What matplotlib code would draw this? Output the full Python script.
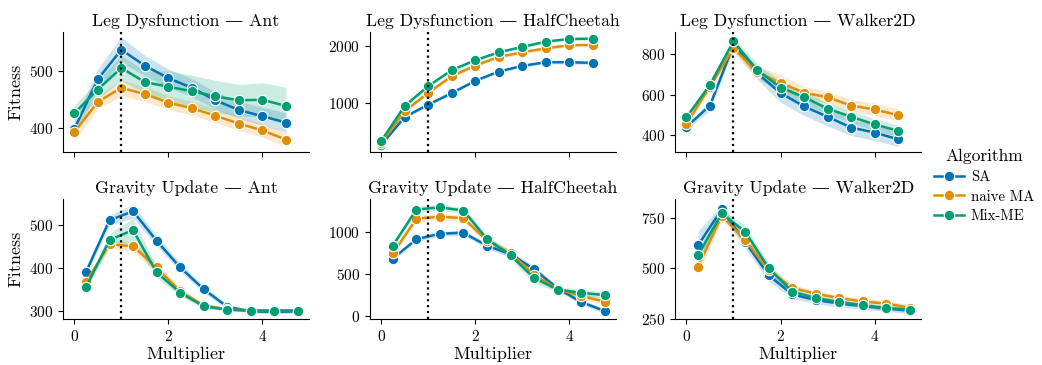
import numpy as np
import matplotlib
matplotlib.use("Agg")
import matplotlib.pyplot as plt
from matplotlib.lines import Line2D

plt.rcParams['font.family'] = ['cmr10', 'DejaVu Serif']
plt.rcParams['axes.formatter.use_mathtext'] = True
plt.rcParams['mathtext.fontset'] = 'cm'

algorithms = ["SA", "naive MA", "Mix-ME"]
colors = ["#0173b2", "#de8f05", "#029e73"]

leg_x = [0.0, 0.5, 1.0, 1.5, 2.0, 2.5, 3.0, 3.5, 4.0, 4.5]
grav_x = [0.25, 0.75, 1.25, 1.75, 2.25, 2.75, 3.25, 3.75, 4.25, 4.75]

# Leg Dysfunction — Ant (mean, ci half width)
leg_ant_sa = [397, 485, 537, 509, 487, 470, 448, 431, 420, 409]
leg_ant_ma = [392, 445, 470, 459, 444, 434, 421, 407, 395, 379]
leg_ant_mix = [425, 467, 505, 480, 472, 464, 455, 448, 449, 438]
leg_ant_sa_ci = [14, 18, 22, 18, 16, 16, 15, 15, 16, 17]
leg_ant_ma_ci = [16, 12, 14, 13, 12, 12, 12, 12, 12, 12]
leg_ant_mix_ci = [14, 16, 22, 20, 28, 28, 28, 28, 30, 33]

# Leg Dysfunction — HalfCheetah
leg_hc_sa = [265, 757, 971, 1173, 1387, 1548, 1647, 1711, 1711, 1699]
leg_hc_ma = [300, 855, 1178, 1468, 1653, 1803, 1884, 1953, 2006, 2012]
leg_hc_mix = [335, 948, 1295, 1572, 1745, 1884, 1977, 2069, 2116, 2121]
leg_hc_sa_ci = [20, 25, 25, 25, 25, 25, 25, 30, 30, 30]
leg_hc_ma_ci = [20, 25, 30, 30, 30, 30, 30, 30, 30, 30]
leg_hc_mix_ci = [20, 25, 25, 25, 25, 25, 25, 25, 25, 25]

# Leg Dysfunction — Walker2D
leg_w_sa = [441, 546, 845, 706, 608, 542, 491, 438, 413, 380]
leg_w_ma = [455, 640, 830, 710, 658, 610, 587, 546, 527, 499]
leg_w_mix = [488, 648, 863, 722, 635, 588, 531, 491, 453, 422]
leg_w_sa_ci = [12, 25, 20, 30, 45, 45, 45, 40, 38, 35]
leg_w_ma_ci = [12, 15, 25, 30, 40, 30, 28, 30, 30, 30]
leg_w_mix_ci = [15, 20, 20, 30, 30, 30, 28, 28, 28, 28]

# Gravity Update — Ant
grav_ant_sa = [390, 511, 532, 463, 401, 350, 309, 298, 297, 298]
grav_ant_ma = [367, 455, 450, 401, 345, 312, 303, 300, 300, 300]
grav_ant_mix = [354, 465, 488, 389, 342, 310, 302, 300, 300, 300]
grav_ant_sa_ci = [8, 12, 16, 12, 10, 8, 6, 4, 4, 4]
grav_ant_ma_ci = [6, 10, 12, 12, 8, 5, 3, 2, 2, 2]
grav_ant_mix_ci = [6, 15, 28, 12, 8, 5, 3, 2, 2, 2]

# Gravity Update — HalfCheetah
grav_hc_sa = [687, 918, 984, 996, 840, 740, 559, 330, 168, 59]
grav_hc_ma = [749, 1164, 1187, 1171, 900, 754, 490, 320, 238, 172]
grav_hc_mix = [843, 1273, 1300, 1261, 922, 726, 454, 316, 277, 250]
grav_hc_sa_ci = [20, 25, 30, 30, 30, 40, 40, 30, 30, 30]
grav_hc_ma_ci = [25, 40, 40, 40, 40, 40, 40, 30, 40, 40]
grav_hc_mix_ci = [25, 35, 35, 35, 40, 50, 60, 30, 40, 40]

# Gravity Update — Walker2D
grav_w_sa = [615, 792, 630, 465, 370, 342, 325, 312, 300, 290]
grav_w_ma = [508, 760, 640, 490, 403, 373, 352, 335, 324, 305]
grav_w_mix = [565, 772, 681, 500, 384, 352, 332, 316, 302, 295]
grav_w_sa_ci = [70, 25, 30, 30, 20, 18, 18, 15, 15, 15]
grav_w_ma_ci = [40, 20, 25, 25, 15, 15, 15, 15, 15, 15]
grav_w_mix_ci = [30, 20, 30, 25, 15, 12, 12, 12, 12, 12]

panels = [
    ("Leg Dysfunction \u2014 Ant", leg_x, [leg_ant_sa, leg_ant_ma, leg_ant_mix],
     [leg_ant_sa_ci, leg_ant_ma_ci, leg_ant_mix_ci]),
    ("Leg Dysfunction \u2014 HalfCheetah", leg_x, [leg_hc_sa, leg_hc_ma, leg_hc_mix],
     [leg_hc_sa_ci, leg_hc_ma_ci, leg_hc_mix_ci]),
    ("Leg Dysfunction \u2014 Walker2D", leg_x, [leg_w_sa, leg_w_ma, leg_w_mix],
     [leg_w_sa_ci, leg_w_ma_ci, leg_w_mix_ci]),
    ("Gravity Update \u2014 Ant", grav_x, [grav_ant_sa, grav_ant_ma, grav_ant_mix],
     [grav_ant_sa_ci, grav_ant_ma_ci, grav_ant_mix_ci]),
    ("Gravity Update \u2014 HalfCheetah", grav_x, [grav_hc_sa, grav_hc_ma, grav_hc_mix],
     [grav_hc_sa_ci, grav_hc_ma_ci, grav_hc_mix_ci]),
    ("Gravity Update \u2014 Walker2D", grav_x, [grav_w_sa, grav_w_ma, grav_w_mix],
     [grav_w_sa_ci, grav_w_ma_ci, grav_w_mix_ci]),
]

yticks = [[400, 500], [1000, 2000], [400, 600, 800],
          [300, 400, 500], [0, 500, 1000], [250, 500, 750]]

fig = plt.figure(figsize=(10.42, 3.65), dpi=100)
lefts = [0.0605, 0.355, 0.648]
bottoms = [0.584, 0.126]
w, h = 0.236, 0.329

for i, (title, xs, means, cis) in enumerate(panels):
    r, c = divmod(i, 3)
    ax = fig.add_axes([lefts[c], bottoms[r], w, h])
    xs = np.array(xs)
    for k in range(3):
        m = np.array(means[k])
        ci = np.array(cis[k])
        ax.fill_between(xs, m - ci, m + ci, color=colors[k], alpha=0.2, lw=0)
        ax.plot(xs, m, color=colors[k], lw=1.8, marker='o', markersize=7.5,
                markeredgecolor='white', markeredgewidth=0.8, zorder=3)
    ax.axvline(1.0, color='black', ls=':', lw=1.6, zorder=4)
    ax.set_xlim(-0.2375, 4.9875)
    ax.set_xticks([0, 2, 4])
    ax.set_yticks(yticks[i])
    ax.spines['top'].set_visible(False)
    ax.spines['right'].set_visible(False)
    ax.tick_params(labelsize=11, length=3.5, width=0.8)
    ax.set_title(title, fontsize=12.8, pad=4)
    if r == 0:
        ax.set_xticklabels([])
    else:
        ax.set_xlabel("Multiplier", fontsize=13, labelpad=2)
    if c == 0:
        ax.set_ylabel("Fitness", fontsize=13)

handles = [Line2D([], [], color=colors[k], lw=1.8, marker='o', markersize=7.5,
                  markeredgecolor='white', markeredgewidth=0.8)
           for k in range(3)]
fig.legend(handles, algorithms, title="Algorithm", loc='center left',
           bbox_to_anchor=(0.888, 0.49), frameon=False, fontsize=10.6,
           title_fontsize=12.5, handlelength=2.0, handletextpad=0.5,
           labelspacing=0.4, borderaxespad=0.2)

fig.savefig("out.png", dpi=100)
